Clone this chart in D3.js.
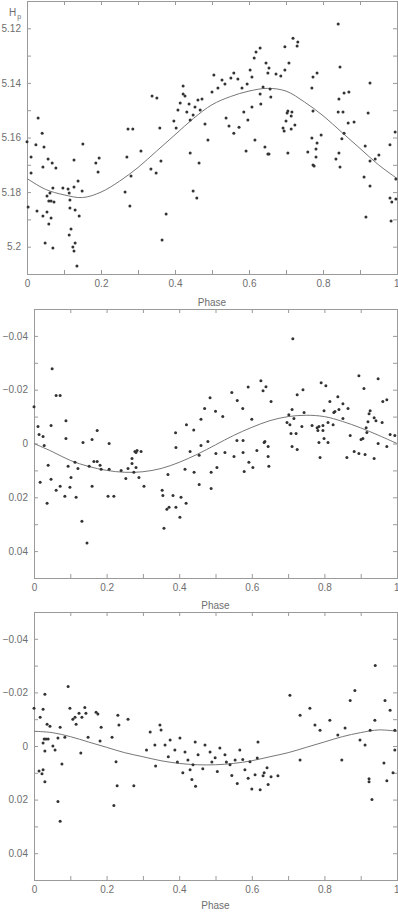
<!DOCTYPE html>
<html><head><meta charset="utf-8">
<script src="https://cdn.jsdelivr.net/npm/d3@7"></script>
<style>
html,body{margin:0;padding:0;background:#fff;}
svg{display:block;}
text{font-family:"Liberation Sans",Arial,sans-serif;}
</style></head>
<body>
<svg id="c" width="398" height="912"></svg>
<script>
// ---------- DATA ----------
const phaseMajor = [0, 0.2, 0.4, 0.6, 0.8, 1];
const phaseMinor = [0,0.1,0.2,0.3,0.4,0.5,0.6,0.7,0.8,0.9,1];
const hpMajor = [5.12, 5.14, 5.16, 5.18, 5.2];
const hpMinor = [5.12,5.13,5.14,5.15,5.16,5.17,5.18,5.19,5.2];
const resMajor = [-0.04, -0.02, 0, 0.02, 0.04];
const resMinor = [-0.04,-0.03,-0.02,-0.01,0,0.01,0.02,0.03,0.04];

const curvePhase = [0,0.05,0.1,0.15,0.2,0.25,0.3,0.35,0.4,0.45,0.5,0.55,0.6,0.65,0.7,0.75,0.8,0.85,0.9,0.95,1];
const hpCurve  = [5.175,5.179,5.181,5.182,5.180,5.176,5.171,5.165,5.159,5.153,5.148,5.145,5.143,5.142,5.143,5.147,5.152,5.158,5.164,5.170,5.175];
const res1Curve = [0,0.003,0.0063,0.0085,0.0100,0.0107,0.0105,0.0093,0.0070,0.0040,0.0005,-0.003,-0.006,-0.0085,-0.0100,-0.0105,-0.0100,-0.0082,-0.0058,-0.003,0];
const res2Curve = [-0.0055,-0.005,-0.0035,-0.0015,0.0005,0.0025,0.004,0.0055,0.0065,0.007,0.007,0.0065,0.0055,0.004,0.0025,0.0005,-0.0015,-0.0035,-0.005,-0.006,-0.0055];

const hpPoints = [
[.030,5.1529],[.041,5.1584],[.024,5.1627],[.046,5.1635],[.000,5.1616],[.011,5.1671],[.057,5.1679],[.127,5.1682],[.151,5.1624],[.195,5.1675],[.270,5.1671],[.273,5.1569],[.286,5.1569],
[.011,5.1730],[.043,5.1708],[.068,5.1693],[.078,5.1712],[.186,5.1693],[.192,5.1726],[.281,5.1741],
[.003,5.1855],[.027,5.1869],[.043,5.1888],[.054,5.1873],[.059,5.1917],[.065,5.1895],[.073,5.1836],
[.070,5.1785],[.062,5.1803],[.054,5.1814],[.059,5.1833],[.065,5.1833],
[.097,5.1785],[.111,5.1789],[.114,5.1803],[.116,5.1829],[.127,5.1781],[.138,5.1759],[.149,5.1796],
[.116,5.1858],[.130,5.1866],[.141,5.1888],[.119,5.1935],[.114,5.1957],[.130,5.1986],[.124,5.2001],[.127,5.2016],[.135,5.2071],[.049,5.1986],[.070,5.2005],[.265,5.1800],[.278,5.1851],
[.308,5.1649],[.362,5.1686],[.335,5.1715],[.349,5.1730],[.441,5.1657],[.465,5.1693],[.449,5.1796],[.459,5.1822],[.376,5.1880],[.365,5.1975],[.651,5.1660],
[.338,5.1448],[.351,5.1455],[.359,5.1565],[.397,5.1540],[.403,5.1565],[.408,5.1499],[.414,5.1474],[.422,5.1441],[.422,5.1411],[.427,5.1448],[.432,5.1507],[.438,5.1477],[.441,5.1536],[.449,5.1518],[.454,5.1488],[.462,5.1463],[.468,5.1499],[.473,5.1459],[.481,5.1551],[.489,5.1609],[.500,5.1433],[.505,5.1371],[.516,5.1419],[.527,5.1389],[.535,5.1404],[.551,5.1382],[.559,5.1364],[.570,5.1386],[.581,5.1419],[.595,5.1404],[.603,5.1353],[.608,5.1378],[.614,5.1309],[.619,5.1287],
[.538,5.1529],[.546,5.1558],[.559,5.1584],[.573,5.1562],[.586,5.1507],[.597,5.1536],[.608,5.1488],[.616,5.1609],[.592,5.1649],
[.841,5.1184],[.719,5.1236],[.732,5.1250],[.730,5.1265],[.697,5.1268],[.630,5.1272],[.646,5.1327],[.708,5.1327],[.654,5.1345],[.697,5.1353],[.846,5.1342],[.651,5.1364],[.673,5.1367],[.686,5.1375],[.784,5.1364],[.773,5.1378],[.927,5.1400],[.638,5.1415],[.657,5.1422],[.770,5.1419],[.870,5.1433],[.857,5.1437],[.659,5.1452],[.843,5.1459],[.630,5.1441],[.632,5.1477],
[.705,5.1503],[.716,5.1507],[.703,5.1510],[.714,5.1521],[.773,5.1503],[.841,5.1507],[.854,5.1507],[.922,5.1510],[.700,5.1540],[.724,5.1554],[.692,5.1565],[.695,5.1576],[.714,5.1569],[.868,5.1547],[.884,5.1543],[.995,5.1580],[.770,5.1602],[.795,5.1591],[.784,5.1620],[.851,5.1605],[.857,5.1584],[.643,5.1635],[.914,5.1631],[.981,5.1627],
[.654,5.1660],[.705,5.1657],[.759,5.1653],[.781,5.1642],[.781,5.1671],[.843,5.1657],[.835,5.1679],[.951,5.1664],[.941,5.1679],
[.773,5.1701],[.776,5.1704],[.846,5.1708],[.927,5.1686],[.911,5.1745],[.927,5.1778],[.997,5.1752],[.981,5.1822],[.986,5.1836],[.997,5.1825],[.916,5.1891],[.984,5.1906]
];

const res1Points = [
[0,-0.0137],[.050,-0.0278],[.061,-0.0178],[.072,-0.0178],[.011,-0.0063],[.047,-0.0067],[.088,-0.0085],[.014,-0.0033],[.025,-0.0026],[.028,0.0007],[.088,-0.0019],[.135,-0.0004],[.160,-0.0015],[.174,-0.0048],[.207,0.0000],[.270,0.0056],[.278,0.0030],[.284,0.0026],
[.017,0.0144],[.036,0.0222],[.039,0.0081],[.047,0.0133],[.061,0.0174],[.072,0.0159],[.085,0.0196],[.094,0.0085],[.099,0.0163],[.102,0.0126],[.113,0.0070],[.116,0.0200],[.121,0.0093],[.132,0.0289],[.146,0.0370],[.152,0.0085],[.160,0.0159],[.165,0.0067],[.174,0.0067],[.182,0.0081],[.185,0.0096],[.207,0.0096],[.204,0.0196],[.220,0.0196],[.240,0.0100],[.253,0.0130],[.259,0.0093],[.270,0.0074],[.275,0.0107],[.281,0.0089],[.281,0.0033],[.289,0.0126],
[.295,0.0030],[.303,0.0159],[.391,0.0015],[.369,0.0115],[.353,0.0174],[.355,0.0193],[.383,0.0193],[.372,0.0237],[.366,0.0244],[.391,0.0237],[.405,0.0200],[.419,0.0222],[.402,0.0274],[.358,0.0315],[.416,0.0096],[.430,0.0030],[.441,0.0107],[.455,0.0152],[.460,0.0007],[.479,-0.0007],[.455,0.0044],[.488,0.0107],[.488,0.0167],[.504,0.0089],[.501,0.0037],[.526,0.0033],[.551,0.0048],[.559,-0.0011],[.576,-0.0011],[.576,0.0033],[.592,0.0070],[.579,0.0104],[.603,0.0089],[.614,0.0026],[.634,-0.0004],[.645,0.0011],[.645,0.0048],[.647,0.0085],
[.713,-0.0389],[.625,-0.0233],[.631,-0.0196],[.639,-0.0211],[.653,-0.0156],[.791,-0.0226],[.804,-0.0215],[.741,-0.0200],[.725,-0.0181],[.895,-0.0252],[.909,-0.0204],[.948,-0.0241],[.961,-0.0156],[.972,-0.0163],[.815,-0.0156],[.837,-0.0174],[.851,-0.0148],[.865,-0.0130],[.829,-0.0119],[.840,-0.0126],[.799,-0.0122],[.711,-0.0126],[.702,-0.0107],[.744,-0.0115],[.716,-0.0093],[.697,-0.0078],[.705,-0.0070],[.738,-0.0063],[.766,-0.0067],[.780,-0.0059],[.785,-0.0063],[.796,-0.0067],[.810,-0.0078],[.824,-0.0070],[.851,-0.0093],[.826,-0.0115],[.926,-0.0122],[.923,-0.0111],[.937,-0.0096],[.942,-0.0085],[.920,-0.0081],[.959,-0.0078],[.915,-0.0059],[.917,-0.0041],[.782,-0.0048],[.796,-0.0048],[.708,-0.0037],[.722,-0.0037],[.871,-0.0030],[.981,-0.0033],[.994,-0.0030],[.636,-0.0007],[.711,0.0011],[.725,0.0022],[.785,-0.0004],[.810,-0.0004],[.799,-0.0019],[.901,-0.0015],[.906,-0.0019],[.948,0.0000],[.972,0.0011],[.882,0.0030],[.895,0.0037],[.912,0.0041],[.788,0.0052],[.862,0.0052],[.937,0.0056],
[.44,-0.005],[.46,-0.009],[.47,-0.013],[.485,-0.017],[.50,-0.012],[.52,-0.010],[.545,-0.019],[.56,-0.016],[.575,-0.013],[.59,-0.021],[.60,-0.009],[.39,-0.004],[.42,-0.007]
];

const res2Points = [
[0,-0.0141],[.017,-0.0107],[.025,-0.0137],[.030,-0.0193],[.094,-0.0222],[.099,-0.0141],[.107,-0.0100],[.113,-0.0107],[.116,-0.0081],[.124,-0.0122],[.132,-0.0107],[.140,-0.0144],[.143,-0.0122],[.171,-0.0126],[.176,-0.0119],[.185,-0.0070],[.215,-0.0033],[.231,-0.0115],[.234,-0.0078],[.259,-0.0100],
[.036,-0.0081],[.044,-0.0074],[.072,-0.0070],[.085,-0.0033],[.066,-0.0030],[.149,-0.0033],[.182,-0.0019],[.025,-0.0011],[.028,-0.0026],[.033,-0.0026],[.039,-0.0026],[.052,0.0000],[.030,0.0019],[.058,0.0015],[.129,0.0026],
[.014,0.0093],[.025,0.0089],[.022,0.0104],[.030,0.0133],[.077,0.0067],[.066,0.0207],[.072,0.0281],[.226,0.0059],[.229,0.0148],[.275,0.0148],[.220,0.0222],
[.642,0.0081],[.634,0.0100],[.631,0.0111],[.653,0.0115],[.672,0.0111],[.645,0.0144],[.623,0.0163],[.923,0.0122],[.923,0.0133],[.972,0.0130],[.964,0.0063],[.989,0.0100],[.931,0.0200],[.733,0.0052],[.848,0.0052],
[.320,-0.0052],[.333,-0.0004],[.347,-0.0078],[.361,-0.0004],[.375,-0.0022],[.388,0.0015],[.402,-0.0030],[.416,0.0022],[.424,0.0052],[.430,0.0089],[.438,0.0070],[.444,-0.0015],[.452,0.0033],[.471,-0.0004],[.485,0.0022],[.499,0.0044],[.512,0.0007],[.526,0.0033],[.540,0.0070],[.554,0.0052],[.567,0.0015],[.581,0.0089],[.595,0.0059],[.609,0.0107],[.617,-0.0015],
[.310,0.0015],[.335,0.0075],[.350,-0.0060],[.370,0.0040],[.395,0.0060],[.410,0.0100],[.435,0.0125],[.445,0.0150],[.465,0.0085],[.490,0.0060],[.505,0.0095],[.530,0.0060],[.545,0.0110],[.560,0.0140],[.575,0.0050],[.590,0.0120],[.600,0.0160],[.615,0.0045],
[.705,-0.0189],[.733,-0.0115],[.760,-0.0141],[.774,-0.0078],[.788,-0.0059],[.815,-0.0096],[.837,-0.0041],[.857,-0.0067],[.871,-0.0170],[.884,-0.0207],[.898,-0.0022],[.912,-0.0004],[.926,-0.0059],[.939,-0.0096],[.940,-0.0300],[.967,-0.0170],[.981,-0.0133],[.994,-0.0059],[.994,0.0015]
];

// ---------- DRAW ----------
const svg = d3.select("#c");
const AX = "#9a9a9a", TXT = "#6e6e6e";

function fmtRes(v){ if (Math.abs(v) < 1e-9) return "0"; const s = (+Math.abs(v).toFixed(2)).toString(); return (v < 0 ? "\u2212" : "") + s; }
function fmtHp(v){ return (+v.toFixed(2)).toString(); }
function fmtPh(v){ return (+v.toFixed(1)).toString(); }

function panel(o){
  const x = d3.scaleLinear().domain([0,1]).range([o.left, o.right]);
  const y = d3.scaleLinear().domain(o.ydom).range([o.top, o.bottom]);
  const g = svg.append("g");
  const styleAxis = sel => { sel.select(".domain").remove(); sel.selectAll("line").attr("stroke", AX); sel.selectAll("text").attr("fill", TXT).style("font-size","10px").style("font-family","'Liberation Sans',Arial,sans-serif"); };
  g.append("rect").attr("x", o.left).attr("y", o.top).attr("width", o.right-o.left).attr("height", o.bottom-o.top)
    .attr("fill","none").attr("stroke",AX).attr("stroke-width",1).attr("shape-rendering","crispEdges");
  g.append("g").attr("transform",`translate(0,${o.bottom})`).call(d3.axisBottom(x).tickValues(phaseMinor).tickSize(-4).tickFormat("")).call(styleAxis);
  g.append("g").attr("transform",`translate(0,${o.top})`).call(d3.axisTop(x).tickValues(phaseMinor).tickSize(-4).tickFormat("")).call(styleAxis);
  g.append("g").attr("transform",`translate(${o.left},0)`).call(d3.axisLeft(y).tickValues(o.minor).tickSize(-4).tickFormat("")).call(styleAxis);
  g.append("g").attr("transform",`translate(${o.right},0)`).call(d3.axisRight(y).tickValues(o.minor).tickSize(-4).tickFormat("")).call(styleAxis);
  const xl = g.append("g").attr("transform",`translate(0,${o.bottom})`).call(d3.axisBottom(x).tickValues(phaseMajor).tickSize(0).tickPadding(6).tickFormat(fmtPh)).call(styleAxis);
  xl.selectAll("text").filter(d => d === 1).attr("text-anchor","end").attr("dx", 2);
  g.append("g").attr("transform",`translate(${o.left},0)`).call(d3.axisLeft(y).tickValues(o.major).tickSize(0).tickPadding(6).tickFormat(o.fmt)).call(styleAxis);
  g.append("text").attr("x",(o.left+o.right)/2).attr("y",o.bottom+o.phaseGap).attr("text-anchor","middle")
    .attr("fill",TXT).style("font-size","10px").text("Phase");
  const line = d3.line().x((d,i)=>x(curvePhase[i])).y(d=>y(d)).curve(d3.curveCatmullRom);
  g.append("path").datum(o.curve).attr("d",line).attr("fill","none").attr("stroke","#777").attr("stroke-width",1);
  g.append("g").selectAll("circle").data(o.pts).join("circle")
    .attr("cx",d=>x(d[0])).attr("cy",d=>y(d[1])).attr("r",1.5).attr("fill","#333");
  return g;
}

panel({left:27,right:397,top:1,bottom:274,ydom:[5.11,5.21],minor:hpMinor,major:hpMajor,fmt:fmtHp,curve:hpCurve,pts:hpPoints,phaseGap:32});
panel({left:34,right:397,top:309,bottom:578,ydom:[-0.05,0.05],minor:resMinor,major:resMajor,fmt:fmtRes,curve:res1Curve,pts:res1Points,phaseGap:31});
panel({left:34,right:397,top:612,bottom:880,ydom:[-0.05,0.05],minor:resMinor,major:resMajor,fmt:fmtRes,curve:res2Curve,pts:res2Points,phaseGap:29});

const lab = svg.append("text").attr("x",9).attr("y",16).attr("fill",TXT).style("font-size","10px");
lab.append("tspan").text("H");
lab.append("tspan").attr("dx",1).attr("dy",3).style("font-size","7px").text("p");
</script>
</body></html>
